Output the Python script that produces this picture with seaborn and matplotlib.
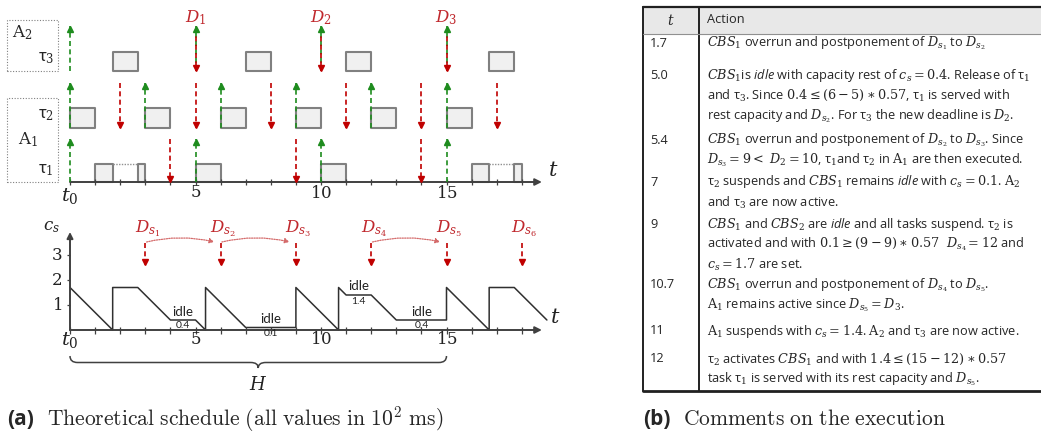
import numpy as np
import matplotlib
matplotlib.use("Agg")
import matplotlib.pyplot as plt
import seaborn as sns
from matplotlib.patches import Rectangle, PathPatch
from matplotlib.path import Path

# -------------------------
# Data (all times in 10^2 ms)
# -------------------------
tau1_release = [0, 5, 10, 15]
tau1_deadline = [4, 9, 14]
tau2_release = [0, 3, 6, 9, 12, 15]
tau2_deadline = [2, 5, 8, 11, 14, 17]
tau3_release = [0, 5, 10, 15]
tau3_deadline = [5, 10, 15]
D_labels = ["$D_1$", "$D_2$", "$D_3$"]

# execution slots as (start, duration)
tau1_exec = [(1.0, 0.7), (2.7, 0.3), (5.0, 1.0), (10.0, 1.0), (16.0, 0.7), (17.7, 0.3)]
tau1_preempt = [(1.7, 2.7), (16.7, 17.7)]
tau2_exec = [(0, 1), (3, 1), (6, 1), (9, 1), (12, 1), (15, 1)]
tau3_exec = [(1.7, 1), (7, 1), (11, 1), (16.7, 1)]

# server capacity c_s
cs_t = [0, 1.7, 1.7, 2.7, 4.0, 5.0, 5.4, 5.4, 7.0, 9.0, 9.0, 10.7, 10.7, 11.0,
        12.0, 13.0, 15.0, 15.0, 16.7, 16.7, 17.7, 19.0]
cs_v = [1.7, 0, 1.7, 1.7, 0.4, 0.4, 0, 1.7, 0.1, 0.1, 1.7, 0, 1.7, 1.4,
        1.4, 0.4, 0.4, 1.7, 0, 1.7, 1.7, 0.4]

# server deadlines and postponements
ds_t = [3, 6, 9, 12, 15, 18]
ds_labels = ["$D_{s_1}$", "$D_{s_2}$", "$D_{s_3}$", "$D_{s_4}$", "$D_{s_5}$", "$D_{s_6}$"]
postpone = [(0, 1), (1, 2), (3, 4)]

idle_t = [4.5, 8.0, 11.5, 14.0]
idle_c = [0.4, 0.1, 1.4, 0.4]
idle_txt = ["0.4", "0.1", "1.4", "0.4"]

hyper = (0, 15)
tick_t = list(range(0, 19))
tick_lab_t = [5, 10, 15]
cs_ticks = [1, 2, 3]

# table
tab_t = ["1.7", "5.0", "5.4", "7", "9", "10.7", "11", "12"]
tab_action = [
    [r"$CBS_1$ overrun and postponement of $D_{s_1}$ to $D_{s_2}$"],
    [r"$CBS_1$is $\mathsf{idle}$ with capacity rest of $c_s=0.4$. Release of τ$_1$",
     r"and τ$_3$. Since $0.4\leq(6-5)\ast0.57$, τ$_1$ is served with",
     r"rest capacity and $D_{s_2}$. For τ$_3$ the new deadline is $D_2$."],
    [r"$CBS_1$ overrun and postponement of $D_{s_2}$ to $D_{s_3}$. Since",
     r"$D_{s_3}=9<\ D_2=10$, τ$_1$and τ$_2$ in $\mathrm{A}_1$ are then executed."],
    [r"τ$_2$ suspends and $CBS_1$ remains $\mathsf{idle}$ with $c_s=0.1$. $\mathrm{A}_2$",
     r"and τ$_3$ are now active."],
    [r"$CBS_1$ and $CBS_2$ are $\mathsf{idle}$ and all tasks suspend. τ$_2$ is",
     r"activated and with $0.1\geq(9-9)\ast0.57\ \ D_{s_4}=12$ and",
     r"$c_s=1.7$ are set."],
    [r"$CBS_1$ overrun and postponement of $D_{s_4}$ to $D_{s_5}$.",
     r"$\mathrm{A}_1$ remains active since $D_{s_5}=D_3$."],
    [r"$\mathrm{A}_1$ suspends with $c_s=1.4$. $\mathrm{A}_2$ and τ$_3$ are now active."],
    [r"τ$_2$ activates $CBS_1$ and with $1.4\leq(15-12)\ast0.57$",
     r"task τ$_1$ is served with its rest capacity and $D_{s_5}$."],
]

# -------------------------
# Style
# -------------------------
sns.set_theme(style="white")
plt.rcParams["font.family"] = ["Lato", "DejaVu Sans"]
plt.rcParams.update({
    "mathtext.fontset": "custom",
    "mathtext.rm": "DejaVu Serif",
    "mathtext.it": "DejaVu Serif:italic",
    "mathtext.bf": "DejaVu Serif:bold",
    "mathtext.sf": "Open Sans:italic",
})

GREEN = "#1e8c1e"
RED = "#c00000"
DRED = "#c0282d"
BOX_FC = "#f0f0f0"
BOX_EC = "#808080"
AX_C = "#404040"
TXT = "#222222"

W, HP = 1041, 443
fig = plt.figure(figsize=(W / 100, HP / 100), dpi=100)


def axes_px(x0, y0, x1, y1):
    ax = fig.add_axes([x0 / W, 1 - y1 / HP, (x1 - x0) / W, (y1 - y0) / HP])
    ax.axis("off")
    return ax


PX_T = 25.1   # px per time unit
T0 = 70       # px of t=0
PX_Y = 25.0


def varrow(ax, x, y0, y1, color, lw=1.2):
    ax.plot([x, x], [y0, y1], color=color, lw=lw, ls=(0, (3, 2)), zorder=3)
    off = 0.12 if y1 > y0 else -0.12
    ax.plot([x], [y1 - off], marker="^" if y1 > y0 else "v", color=color,
            ms=5, mec=color, zorder=4)


def time_axis(ax, y_tick):
    ax.annotate("", xy=(18.8, 0), xytext=(0, 0),
                arrowprops=dict(arrowstyle="-|>", color=AX_C, lw=1.4, mutation_scale=10,
                                shrinkA=0, shrinkB=0), zorder=2)
    ax.vlines(tick_t, -y_tick, y_tick, color=AX_C, lw=0.9, zorder=2)


# -------------------------
# Top: schedule
# -------------------------
ax1 = axes_px(0, 0, 600, 200)
ax1.set_xlim(-T0 / PX_T, (600 - T0) / PX_T)
ax1.set_ylim(-(200 - 182) / PX_Y, 182 / PX_Y)


def tx(px):
    return (px - T0) / PX_T


def ty(py):
    return (182 - py) / PX_Y


rows = {"tau1": (0.0, 0.72, 1.72), "tau2": (2.16, 0.8, 1.8), "tau3": (4.44, 0.78, 1.8)}

for key, slots in [("tau1", tau1_exec), ("tau2", tau2_exec), ("tau3", tau3_exec)]:
    base, hgt, _ = rows[key]
    ax1.broken_barh(slots, (base, hgt), facecolors=BOX_FC, edgecolors=BOX_EC, lw=1.5, zorder=2)

b1, h1, _ = rows["tau1"]
for a, b in tau1_preempt:
    ax1.plot([a, b], [b1 + h1, b1 + h1], color="#909090", lw=1.0, ls=(0, (1, 1)), zorder=2)

for key, rel, dl in [("tau1", tau1_release, tau1_deadline),
                     ("tau2", tau2_release, tau2_deadline),
                     ("tau3", tau3_release, tau3_deadline)]:
    base, _, ah = rows[key]
    for r in rel:
        varrow(ax1, r, base, base + ah, GREEN)
    for d in dl:
        varrow(ax1, d, base + ah - (0.08 if key == "tau3" else 0), base, RED)

for d, lab in zip(tau3_deadline, D_labels):
    ax1.text(d, ty(18), lab, color=DRED, ha="center", va="center", fontsize=12)

time_axis(ax1, 0.12)
for v in tick_lab_t:
    ax1.text(v, ty(192), f"${v}$", ha="center", va="center", fontsize=12, color=TXT)
ax1.text(0, ty(196), "$t_0$", ha="center", va="center", fontsize=14, color=TXT)
ax1.text(tx(553), ty(170), "$t$", ha="center", va="center", fontsize=15, color=TXT)

# group boxes
for (x0, y0, x1, y1) in [(7, 20, 58, 71), (7, 98, 58, 182)]:
    ax1.add_patch(Rectangle((tx(x0), ty(y1)), tx(x1) - tx(x0), ty(y0) - ty(y1),
                            fill=False, ec="#808080", lw=0.8, ls=(0, (1, 1.5))))
ax1.text(tx(22), ty(33), r"$\mathrm{A}_2$", ha="center", va="center", fontsize=12)
ax1.text(tx(46), ty(58), "τ$_3$", ha="center", va="center", fontsize=12)
ax1.text(tx(46), ty(115), "τ$_2$", ha="center", va="center", fontsize=12)
ax1.text(tx(28), ty(140), r"$\mathrm{A}_1$", ha="center", va="center", fontsize=12)
ax1.text(tx(46), ty(170), "τ$_1$", ha="center", va="center", fontsize=12)

# -------------------------
# Bottom: server capacity
# -------------------------
ax2 = axes_px(0, 200, 600, 443)
ax2.set_xlim(-T0 / PX_T, (600 - T0) / PX_T)
ax2.set_ylim((330 - 443) / PX_Y, (330 - 200) / PX_Y)

sns.lineplot(x=cs_t, y=cs_v, sort=False, estimator=None, color="#303030", lw=1.1, ax=ax2)

time_axis(ax2, 0.14)
ax2.annotate("", xy=(0, 3.92), xytext=(0, 0),
             arrowprops=dict(arrowstyle="-|>", color=AX_C, lw=1.4, mutation_scale=9,
                             shrinkA=0, shrinkB=0))
ax2.hlines(cs_ticks, -0.12, 0, color=AX_C, lw=0.9)
for c in cs_ticks:
    ax2.text(-0.52, c, f"${c}$", ha="center", va="center", fontsize=12, color=TXT)
ax2.text(-0.72, 4.1, "$c_s$", ha="center", va="center", fontsize=12, color=TXT)
for v in tick_lab_t:
    ax2.text(v, -0.36, f"${v}$", ha="center", va="center", fontsize=12, color=TXT)
ax2.text(0, -0.38, "$t_0$", ha="center", va="center", fontsize=14, color=TXT)
ax2.text(tx(555), 0.52, "$t$", ha="center", va="center", fontsize=15, color=TXT)

for d, lab in zip(ds_t, ds_labels):
    ax2.text(d + 0.1, 4.04, lab, color=DRED, ha="center", va="center", fontsize=12)
    varrow(ax2, d, 3.48, 2.6, RED)
for i, j in postpone:
    ax2.annotate("", xy=(ds_t[j] - 0.25, 3.52), xytext=(ds_t[i] + 0.05, 3.52),
                 arrowprops=dict(arrowstyle="-|>", color="#d46a6a", lw=0.9, ls=(0, (1, 1)),
                                 mutation_scale=7, connectionstyle="arc3,rad=-0.12",
                                 shrinkA=0, shrinkB=0))

for t, c, s in zip(idle_t, idle_c, idle_txt):
    ax2.text(t, c + 0.34, "idle", ha="center", va="center", fontsize=9.5, color=TXT)
    ax2.text(t, c - 0.24, s, ha="center", va="center", fontsize=7.5, color=TXT)

# hyperperiod brace
a, b = hyper
m = (a + b) / 2
y0, y1, y2, r = -1.04, -1.3, -1.52, 0.3
verts = [(a, y0), (a, y1), (a + r, y1), (m - r, y1), (m, y1), (m, y2),
         (m, y1), (m + r, y1), (b - r, y1), (b, y1), (b, y0)]
codes = [Path.MOVETO, Path.CURVE3, Path.CURVE3, Path.LINETO, Path.CURVE3, Path.CURVE3,
         Path.CURVE3, Path.CURVE3, Path.LINETO, Path.CURVE3, Path.CURVE3]
ax2.add_patch(PathPatch(Path(verts, codes), fill=False, ec="#404040", lw=1.1))
ax2.text(m, -2.16, "$H$", ha="center", va="center", fontsize=13, color=TXT)

# -------------------------
# Right: table
# -------------------------
ax3 = axes_px(600, 0, 1041, 443)
ax3.set_xlim(600, 1041)
ax3.set_ylim(443, 0)

TL, TR, TT, TB, TD, THB = 643, 1041, 7, 391, 699, 34
ax3.add_patch(Rectangle((TL, TT), TR - TL, THB - TT, fc="#e8e8e8", ec="none"))
ax3.plot([TL, TR], [TT, TT], color="#202020", lw=1.6)
ax3.plot([TL, TR], [TB, TB], color="#202020", lw=2.0)
ax3.plot([TL, TL], [TT, TB], color="#202020", lw=1.4)
ax3.plot([TD, TD], [TT, TB], color="#202020", lw=1.4)
ax3.plot([TL, TR], [THB, THB], color="#909090", lw=0.8)
ax3.text(671, 19, "$t$", ha="center", va="center", fontsize=10)
ax3.text(707, 19, "Action", ha="left", va="center", fontsize=9.2, family="Open Sans")

row_y = [43, 75, 140, 182, 224, 285, 331, 359]
LINE = 20.5
for t, lines, y in zip(tab_t, tab_action, row_y):
    ax3.text(650, y, t, ha="left", va="center", fontsize=9.2, family="Open Sans")
    for k, ln in enumerate(lines):
        ax3.text(707, y + k * LINE, ln, ha="left", va="center", fontsize=9.2,
                 family=["Open Sans", "DejaVu Sans"])

# -------------------------
# Captions
# -------------------------
fig.text(7 / W, 1 - 425 / HP, "(a)", fontsize=15, fontweight="bold", family="Open Sans",
         va="baseline")
fig.text(47 / W, 1 - 425 / HP, r"$\mathrm{Theoretical\ schedule\ (all\ values\ in\ 10^2\ ms)}$",
         fontsize=15.5, va="baseline", math_fontfamily="cm")
fig.text(643 / W, 1 - 425 / HP, "(b)", fontsize=15, fontweight="bold", family="Open Sans",
         va="baseline")
fig.text(683 / W, 1 - 425 / HP, r"$\mathrm{Comments\ on\ the\ execution}$",
         fontsize=15.5, va="baseline", math_fontfamily="cm")

fig.savefig("out.png", dpi=100)
